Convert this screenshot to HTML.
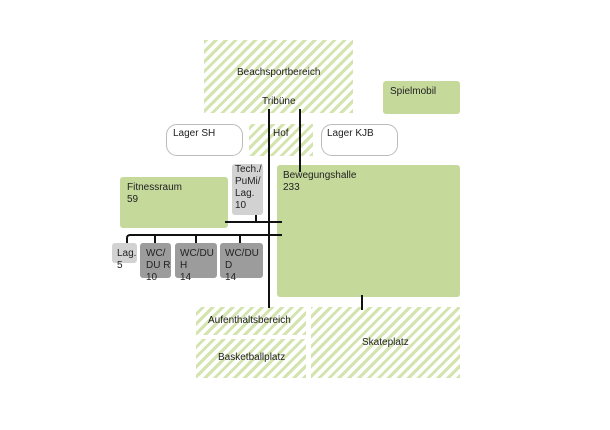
<!DOCTYPE html>
<html><head><style>
body{margin:0;width:610px;height:430px;background:#fff;position:relative;overflow:hidden;font-family:"Liberation Sans",sans-serif;font-size:10px;color:#222}
.b{position:absolute;box-sizing:border-box}
.h{background:repeating-linear-gradient(-45deg,#d3e4ae 0 3px,#fff 3px 7px)}
.g{background:#c5d99b;border-radius:3px}
.r{border:1px solid #bbb;border-radius:11px;background:#fff}
.l{position:absolute;background:#111}
.t{position:absolute;white-space:nowrap;line-height:12px}
.c{text-align:center}
.lg{background:#d2d2d2;border-radius:3px}
.dg{background:#9c9c9c;border-radius:3px}
</style></head><body>
<div class="b h" style="left:204px;top:40px;width:149px;height:73px"></div>
<div class="t" style="left:237px;top:67px">Beachsportbereich</div>
<div class="t" style="left:262px;top:96px">Tribüne</div>
<div class="b g" style="left:383px;top:81px;width:77px;height:33px"></div>
<div class="t" style="left:390px;top:86px">Spielmobil</div>
<div class="b r" style="left:166px;top:124px;width:77px;height:32px"></div>
<div class="t" style="left:173px;top:128px">Lager SH</div>
<div class="b h" style="left:249px;top:124px;width:64px;height:32px"></div>
<div class="t" style="left:273px;top:128px">Hof</div>
<div class="b r" style="left:321px;top:124px;width:77px;height:32px"></div>
<div class="t" style="left:327px;top:128px">Lager KJB</div>
<div class="b lg" style="left:232px;top:164px;width:31px;height:51px"></div>
<div class="t" style="left:235px;top:164px">Tech./<br>PuMi/<br>Lag.<br>10</div>
<div class="b g" style="left:120px;top:177px;width:108px;height:51px"></div>
<div class="t" style="left:127px;top:182px">Fitnessraum<br>59</div>
<div class="b g" style="left:277px;top:165px;width:183px;height:132px"></div>
<div class="t" style="left:283px;top:170px">Bewegungshalle<br>233</div>
<div class="b lg" style="left:112px;top:243px;width:25px;height:20px"></div>
<div class="t" style="left:117px;top:248px">Lag.<br>5</div>
<div class="b dg" style="left:140px;top:243px;width:31px;height:35px"></div>
<div class="t" style="left:146px;top:248px">WC/<br>DU R<br>10</div>
<div class="b dg" style="left:175px;top:243px;width:42px;height:35px"></div>
<div class="t" style="left:180px;top:248px">WC/DU<br>H<br>14</div>
<div class="b dg" style="left:220px;top:243px;width:43px;height:35px"></div>
<div class="t" style="left:225px;top:248px">WC/DU<br>D<br>14</div>
<div class="b h" style="left:196px;top:307px;width:110px;height:28px"></div>
<div class="t" style="left:208px;top:315px">Aufenthaltsbereich</div>
<div class="b h" style="left:196px;top:339px;width:110px;height:39px"></div>
<div class="t" style="left:218px;top:352px">Basketballplatz</div>
<div class="b h" style="left:311px;top:307px;width:149px;height:71px"></div>
<div class="t" style="left:362px;top:337px">Skateplatz</div>
<div class="l" style="left:268px;top:109px;width:2px;height:199px"></div>
<div class="l" style="left:299px;top:109px;width:2px;height:63px"></div>
<div class="l" style="left:225px;top:221px;width:57px;height:2px"></div>
<div class="l" style="left:255px;top:215px;width:2px;height:7px"></div>
<div class="l" style="left:130px;top:234px;width:152px;height:2px;"></div>
<div class="b" style="left:126px;top:234px;width:8px;height:9px;border-left:2px solid #111;border-top:2px solid #111;border-top-left-radius:4px"></div>
<div class="l" style="left:154px;top:235px;width:2px;height:8px"></div>
<div class="l" style="left:195px;top:235px;width:2px;height:8px"></div>
<div class="l" style="left:239px;top:235px;width:2px;height:8px"></div>
<div class="l" style="left:361px;top:295px;width:2px;height:15px"></div>
</body></html>
